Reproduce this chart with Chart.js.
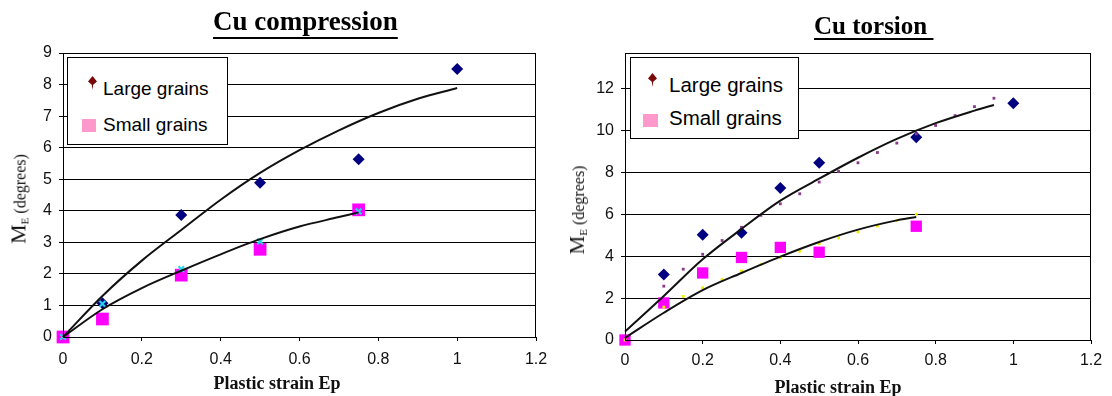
<!DOCTYPE html>
<html>
<head>
<meta charset="utf-8">
<script src="https://cdn.jsdelivr.net/npm/chart.js@4.4.1/dist/chart.umd.min.js"></script>
<style>
  html, body { margin: 0; padding: 0; background: #fff; }
  #page { position: relative; width: 1112px; height: 396px; overflow: hidden; }
  .panel { position: absolute; top: 0; width: 556px; height: 396px; }
  .panel canvas { position: absolute; left: 0; top: 0; }
  .title { position: absolute; font-family: "Liberation Serif", "Times New Roman", serif; font-weight: bold;
           color: #000; white-space: pre; line-height: 1; text-decoration: underline; text-decoration-thickness: 2px; }
  .xtitle { position: absolute; font-family: "Liberation Serif", "Times New Roman", serif; font-weight: bold;
            font-size: 18px; line-height: 1; white-space: nowrap; transform: translate(-50%, -50%); color: #111; }
  .ytitle { position: absolute; font-family: "Liberation Serif", "Times New Roman", serif; white-space: nowrap;
            line-height: 1; transform: translate(-50%, -50%) rotate(-90deg); color: #111; }
  .ytitle sub { font-size: 11px; vertical-align: -3px; }
  .legend { position: absolute; border: 1px solid #000; background: #fff; box-sizing: border-box;
            font-family: "Liberation Sans", Arial, sans-serif; color: #000; }
  .legend span { position: absolute; white-space: nowrap; line-height: 1; }
  .ldia { background: #7a0a0a; clip-path: polygon(50% 0, 100% 40%, 58% 62%, 50% 100%, 42% 62%, 0 40%); }
  .lsq { background: #ff99cc; }
</style>
</head>
<body>
<div id="page">
  <div class="panel" style="left:0">
    <canvas id="comp" width="556" height="396"></canvas>
  </div>
  <div class="panel" style="left:556px">
    <canvas id="tors" width="556" height="396"></canvas>
  </div>

  <div class="title" style="left:213px;top:8px;font-size:27px;text-underline-offset:7px">Cu compression</div>
  <div class="title" style="left:814px;top:13px;font-size:25px;text-underline-offset:4px">Cu torsion </div>

  <div class="xtitle" style="left:277px;top:383px">Plastic strain Ep</div>
  <div class="xtitle" style="left:838px;top:387px">Plastic strain Ep</div>

  <div class="ytitle" style="left:19px;top:199px"><span style="font-size:22px">M</span><sub>E</sub><span style="font-size:16px">&nbsp;(degrees)</span></div>
  <div class="ytitle" style="left:578px;top:210px"><span style="font-size:21px">M</span><sub>E</sub><span style="font-size:16px">&nbsp;(degrees)</span></div>

  <div class="legend" style="left:67px;top:57px;width:161px;height:88px;font-size:19px">
    <span class="ldia" style="left:20px;top:18px;width:9px;height:14px"></span>
    <span style="left:35px;top:21px">Large grains</span>
    <span class="lsq" style="left:14px;top:61px;width:14px;height:13px"></span>
    <span style="left:35px;top:57px">Small grains</span>
  </div>
  <div class="legend" style="left:630px;top:57px;width:169px;height:82px;font-size:20.5px">
    <span class="ldia" style="left:17px;top:15px;width:9px;height:14px"></span>
    <span style="left:38px;top:17px">Large grains</span>
    <span class="lsq" style="left:12px;top:56px;width:15px;height:13px"></span>
    <span style="left:38px;top:50px">Small grains</span>
  </div>
</div>

<script>
// ---- Cu compression ----
const compLargeStrain = [0.1, 0.3, 0.5, 0.75, 1.0];
const compLargeME     = [1.07, 3.87, 4.89, 5.63, 8.49];
const compSmallStrain = [0, 0.1, 0.3, 0.5, 0.75];
const compSmallME     = [0, 0.57, 1.96, 2.78, 4.03];
const compModelStrain = [0, 0.1, 0.3, 0.5, 0.75];
const compModelME     = [0, 1.05, 2.15, 3.03, 3.98];
const compLargeTrendStrain = [0, 0.1, 0.2, 0.3, 0.4, 0.5, 0.6, 0.7, 0.8, 0.9, 1.0];
const compLargeTrendME     = [0, 1.3, 2.42, 3.39, 4.35, 5.2, 5.92, 6.55, 7.1, 7.55, 7.89];
const compSmallTrendStrain = [0, 0.1, 0.2, 0.3, 0.4, 0.5, 0.6, 0.7, 0.75];
const compSmallTrendME     = [0, 0.88, 1.55, 2.1, 2.62, 3.1, 3.5, 3.8, 3.95];
const compYTicks = [0, 1, 2, 3, 4, 5, 6, 7, 8, 9];

// ---- Cu torsion ----
const torsLargeStrain = [0.1, 0.2, 0.3, 0.4, 0.5, 0.75, 1.0];
const torsLargeME     = [3.13, 5.03, 5.12, 7.25, 8.46, 9.68, 11.3];
const torsSmallStrain = [0, 0.1, 0.2, 0.3, 0.4, 0.5, 0.75];
const torsSmallME     = [0, 1.77, 3.2, 3.94, 4.42, 4.19, 5.43];
const torsLargeDotStrain = [0.1, 0.15, 0.2, 0.25, 0.3, 0.35, 0.4, 0.45, 0.5, 0.55, 0.6, 0.65, 0.7, 0.75, 0.8, 0.85, 0.9, 0.95];
const torsLargeDotME     = [2.57, 3.38, 4.09, 4.75, 5.38, 5.95, 6.5, 6.98, 7.54, 8.05, 8.46, 8.95, 9.4, 9.84, 10.24, 10.71, 11.14, 11.54];
const torsSmallDotStrain = [0, 0.1, 0.15, 0.2, 0.25, 0.3, 0.35, 0.4, 0.45, 0.5, 0.55, 0.6, 0.65, 0.7, 0.75];
const torsSmallDotME     = [0, 1.57, 2.08, 2.5, 2.89, 3.29, 3.6, 3.93, 4.24, 4.6, 4.87, 5.16, 5.44, 5.71, 6.0];
const torsLargeTrendStrain = [0, 0.1, 0.2, 0.3, 0.4, 0.5, 0.6, 0.7, 0.8, 0.9, 0.95];
const torsLargeTrendME     = [0.4, 2.1, 3.85, 5.3, 6.65, 7.7, 8.7, 9.6, 10.35, 10.95, 11.22];
const torsSmallTrendStrain = [0, 0.1, 0.2, 0.3, 0.4, 0.5, 0.6, 0.7, 0.75];
const torsSmallTrendME     = [0.1, 1.3, 2.38, 3.2, 3.98, 4.68, 5.27, 5.71, 5.87];
const torsYTicks = [0, 2, 4, 6, 8, 10, 12];

const strainTicks = [0, 0.2, 0.4, 0.6, 0.8, 1, 1.2];

const NAVY = '#000080', MAGENTA = '#ff00ff';

function pts(xs, ys) { return xs.map((x, i) => ({ x: x, y: ys[i] })); }

// black frame around the plot area
const frame = {
  id: 'frame',
  afterDatasetsDraw(chart) {
    const a = chart.chartArea, c = chart.ctx;
    c.save();
    c.strokeStyle = '#000';
    c.lineWidth = 1;
    c.strokeRect(Math.round(a.left) + 0.5, Math.round(a.top) + 0.5,
                 Math.round(a.right - a.left) - 1, Math.round(a.bottom - a.top));
    c.restore();
  }
};

const tickFont = { family: '"Liberation Sans", Arial, sans-serif', size: 16 };

function trend(xs, ys) {
  return {
    type: 'line', data: pts(xs, ys), showLine: true, borderColor: '#111', borderWidth: 2,
    pointRadius: 0, cubicInterpolationMode: 'monotone', fill: false, order: 1, clip: false
  };
}
function markers(xs, ys, style, color, radius, order, extra) {
  return Object.assign({
    type: 'scatter', data: pts(xs, ys), pointStyle: style, pointRadius: radius,
    backgroundColor: color, borderColor: color, borderWidth: 0, order: order, clip: false
  }, extra || {});
}

function build(id, datasets, opts) {
  return new Chart(document.getElementById(id), {
    type: 'scatter',
    data: { datasets: datasets },
    options: {
      responsive: false, animation: false, events: [],
      layout: { padding: opts.padding },
      plugins: { legend: { display: false }, tooltip: { enabled: false } },
      scales: {
        x: {
          type: 'linear', min: 0, max: 1.2,
          afterBuildTicks(s) { s.ticks = strainTicks.map(v => ({ value: v })); },
          afterFit(s) { s.height = 30; s.paddingLeft = 0; s.paddingRight = 0; },
          ticks: { font: tickFont, color: '#111', padding: opts.xPad, maxRotation: 0, callback: v => String(v) },
          grid: { drawOnChartArea: false, drawTicks: true, tickLength: 4, color: '#000' },
          border: { color: '#000', width: 1 }
        },
        y: {
          type: 'linear', min: 0, max: opts.yMax,
          afterBuildTicks(s) { s.ticks = opts.yTicks.map(v => ({ value: v })); },
          afterFit(s) { s.width = opts.yWidth; s.paddingTop = 0; s.paddingBottom = 0; },
          ticks: { font: tickFont, color: '#111', padding: 7, callback: v => String(v) },
          grid: { drawOnChartArea: true, drawTicks: true, tickLength: 4, color: '#000', lineWidth: 1 },
          border: { color: '#000', width: 1 }
        }
      }
    },
    plugins: [frame]
  });
}

build('comp', [
  trend(compLargeTrendStrain, compLargeTrendME),
  trend(compSmallTrendStrain, compSmallTrendME),
  markers(compModelStrain, compModelME, 'crossRot', '#22d8e8', 4, 2, { borderWidth: 2 }),
  markers(compLargeStrain, compLargeME, 'rectRot', NAVY, 6, 3),
  markers(compSmallStrain, compSmallME, 'rect', MAGENTA, 9, 4)
], { padding: { left: 0, top: 53, right: 20, bottom: 29 }, yMax: 9, yTicks: compYTicks, yWidth: 63, xPad: 9 });

build('tors', [
  trend(torsLargeTrendStrain, torsLargeTrendME),
  trend(torsSmallTrendStrain, torsSmallTrendME),
  markers(torsSmallDotStrain, torsSmallDotME, 'rect', '#f2ee00', 2, 2),
  markers(torsLargeDotStrain, torsLargeDotME, 'rect', '#8a3a8a', 2, 2),
  markers(torsLargeStrain, torsLargeME, 'rectRot', NAVY, 6, 3),
  markers(torsSmallStrain, torsSmallME, 'rect', MAGENTA, 8, 4)
], { padding: { left: 0, top: 53, right: 21, bottom: 26 }, yMax: 13.7, yTicks: torsYTicks, yWidth: 69, xPad: 7 });
</script>
</body>
</html>
